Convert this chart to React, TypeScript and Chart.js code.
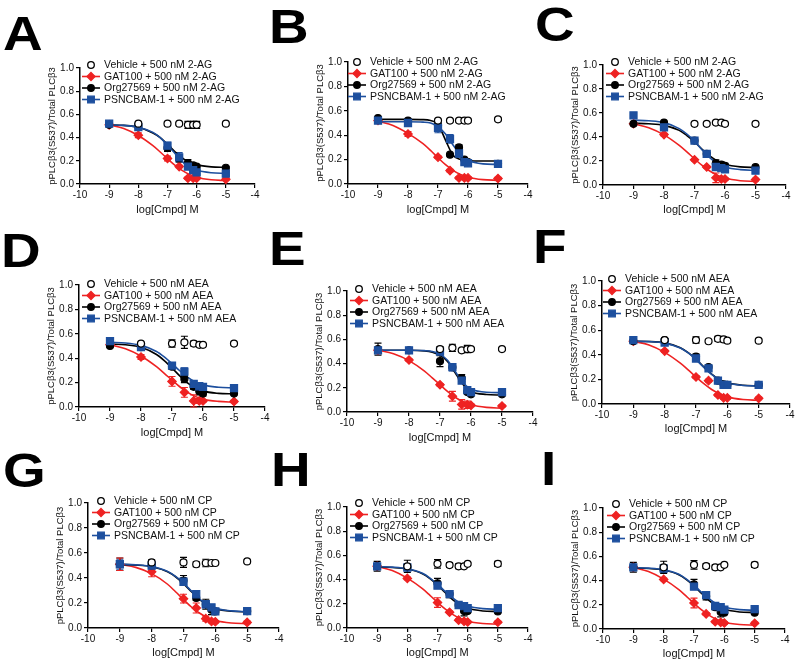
import React, { useEffect, useRef } from "react";
import { Chart, registerables } from "chart.js";

Chart.register(...registerables);

const FONT = '"Liberation Sans", Arial, Helvetica, sans-serif';
const RED = "#ee2222";
const BLUE = "#1d4f9e";
const BLACK = "#000000";

const LETTERS = ["A", "B", "C", "D", "E", "F", "G", "H", "I"];
const AGONISTS = ["2-AG", "2-AG", "2-AG", "AEA", "AEA", "AEA", "CP", "CP", "CP"];
const X_TICKS = [-10, -9, -8, -7, -6, -5, -4];
const Y_TICKS = [0, 0.2, 0.4, 0.6, 0.8, 1.0];
const X_TITLE = "log[Cmpd] M";
const Y_TITLE = "pPLCβ3(S537)/Total PLCβ3";

// concentrations (log M) of measured points
const CONC = [-9, -8, -7, -6.6, -6.3, -6.12, -6, -5];
// positions where the fitted curves were read
const FIT_X = [-9, -8.5, -8, -7.5, -7.25, -7, -6.75, -6.5, -6.25, -6, -5.5, -5];

// ---------- Panel A (2-AG) ----------
const A_VEH = [null, 0.52, 0.52, 0.52, 0.51, 0.51, 0.51, 0.52];
const A_VEH_ERR = [0, 0.01, 0.01, 0.01, 0.03, 0.03, 0.03, 0.01];
const A_GAT = [0.51, 0.42, 0.22, 0.15, 0.05, 0.05, 0.05, 0.04];
const A_GAT_ERR = [0.01, 0.02, 0.02, 0.01, 0.01, 0.01, 0.01, 0.01];
const A_ORG = [0.51, 0.5, 0.31, 0.22, 0.18, 0.16, 0.15, 0.14];
const A_ORG_ERR = [0.01, 0.01, 0.03, 0.03, 0.03, 0.02, 0.01, 0.01];
const A_PSN = [0.52, 0.49, 0.33, 0.23, 0.15, 0.12, 0.1, 0.09];
const A_PSN_ERR = [0.01, 0.01, 0.03, 0.04, 0.02, 0.02, 0.01, 0.01];
const A_GAT_FIT = [0.51, 0.478, 0.418, 0.33, 0.276, 0.218, 0.163, 0.117, 0.082, 0.058, 0.036, 0.03];
const A_ORG_FIT = [0.51, 0.505, 0.49, 0.44, 0.4, 0.34, 0.28, 0.225, 0.185, 0.165, 0.148, 0.143];
const A_PSN_FIT = [0.51, 0.505, 0.49, 0.445, 0.4, 0.335, 0.265, 0.195, 0.145, 0.118, 0.097, 0.092];

// ---------- Panel B (2-AG) ----------
const B_VEH = [null, null, 0.52, 0.52, 0.52, 0.52, 0.52, 0.53];
const B_VEH_ERR = [0, 0, 0.01, 0.01, 0.01, 0.01, 0.01, 0.01];
const B_GAT = [0.52, 0.41, 0.22, 0.11, 0.05, 0.05, 0.05, 0.045];
const B_GAT_ERR = [0.01, 0.02, 0.01, 0.01, 0.01, 0.01, 0.01, 0.01];
const B_ORG = [0.54, 0.52, 0.48, 0.24, 0.3, 0.2, 0.18, 0.165];
const B_ORG_ERR = [0.01, 0.01, 0.02, 0.01, 0.02, 0.01, 0.01, 0.01];
const B_PSN = [0.52, 0.5, 0.46, 0.37, 0.25, 0.18, 0.17, 0.165];
const B_PSN_ERR = [0.01, 0.01, 0.04, 0.035, 0.03, 0.02, 0.01, 0.01];
const B_GAT_FIT = [0.515, 0.48, 0.415, 0.33, 0.275, 0.215, 0.158, 0.112, 0.078, 0.056, 0.036, 0.03];
const B_ORG_FIT = [0.53, 0.53, 0.53, 0.528, 0.52, 0.49, 0.36, 0.235, 0.2, 0.19, 0.188, 0.188];
const B_PSN_FIT = [0.51, 0.51, 0.51, 0.507, 0.5, 0.47, 0.41, 0.32, 0.24, 0.195, 0.165, 0.16];

// ---------- Panel C (2-AG) ----------
const C_VEH = [null, null, 0.51, 0.51, 0.52, 0.52, 0.51, 0.51];
const C_VEH_ERR = [0, 0, 0.01, 0.01, 0.01, 0.01, 0.01, 0.01];
const C_GAT = [0.51, 0.42, 0.21, 0.15, 0.06, 0.05, 0.05, 0.045];
const C_GAT_ERR = [0.01, 0.01, 0.01, 0.01, 0.04, 0.01, 0.01, 0.01];
const C_ORG = [0.51, 0.52, 0.37, 0.26, 0.18, 0.17, 0.16, 0.15];
const C_ORG_ERR = [0.01, 0.01, 0.01, 0.01, 0.03, 0.02, 0.02, 0.01];
const C_PSN = [0.58, 0.48, 0.37, 0.26, 0.15, 0.14, 0.13, 0.12];
const C_PSN_ERR = [0.01, 0.01, 0.01, 0.01, 0.02, 0.01, 0.01, 0.01];
const C_GAT_FIT = [0.51, 0.478, 0.418, 0.33, 0.276, 0.218, 0.163, 0.117, 0.082, 0.058, 0.036, 0.03];
const C_ORG_FIT = [0.515, 0.51, 0.497, 0.455, 0.412, 0.36, 0.298, 0.243, 0.2, 0.173, 0.151, 0.146];
const C_PSN_FIT = [0.54, 0.535, 0.52, 0.47, 0.425, 0.365, 0.292, 0.228, 0.178, 0.15, 0.128, 0.122];

// ---------- Panel D (AEA) ----------
const D_VEH = [null, 0.52, 0.52, 0.53, 0.52, 0.51, 0.51, 0.52];
const D_VEH_ERR = [0, 0.01, 0.03, 0.05, 0.02, 0.01, 0.01, 0.01];
const D_GAT = [0.51, 0.41, 0.21, 0.12, 0.05, 0.05, 0.05, 0.045];
const D_GAT_ERR = [0.01, 0.02, 0.04, 0.04, 0.05, 0.02, 0.01, 0.01];
const D_ORG = [0.5, 0.49, 0.33, 0.23, 0.165, 0.13, 0.11, 0.11];
const D_ORG_ERR = [0.01, 0.01, 0.02, 0.03, 0.02, 0.03, 0.02, 0.01];
const D_PSN = [0.54, 0.49, 0.34, 0.29, 0.19, 0.17, 0.165, 0.155];
const D_PSN_ERR = [0.01, 0.02, 0.02, 0.03, 0.01, 0.01, 0.01, 0.01];
const D_GAT_FIT = [0.51, 0.478, 0.418, 0.33, 0.276, 0.22, 0.166, 0.12, 0.087, 0.064, 0.046, 0.04];
const D_ORG_FIT = [0.515, 0.51, 0.49, 0.43, 0.38, 0.32, 0.255, 0.198, 0.155, 0.13, 0.112, 0.107];
const D_PSN_FIT = [0.53, 0.525, 0.505, 0.455, 0.41, 0.355, 0.297, 0.245, 0.205, 0.18, 0.162, 0.157];

// ---------- Panel E (AEA) ----------
const E_VEH = [null, null, 0.52, 0.53, 0.51, 0.52, 0.52, 0.52];
const E_VEH_ERR = [0, 0, 0.02, 0.03, 0.01, 0.03, 0.01, 0.01];
const E_GAT = [0.51, 0.43, 0.225, 0.13, 0.063, 0.06, 0.055, 0.05];
const E_GAT_ERR = [0.01, 0.01, 0.01, 0.04, 0.04, 0.03, 0.01, 0.01];
const E_ORG = [0.52, 0.51, 0.42, 0.37, 0.28, 0.165, 0.146, 0.146];
const E_ORG_ERR = [0.05, 0.01, 0.045, 0.01, 0.03, 0.01, 0.01, 0.01];
const E_PSN = [0.51, 0.51, 0.5, 0.37, 0.26, 0.18, 0.165, 0.165];
const E_PSN_ERR = [0.01, 0.01, 0.02, 0.03, 0.01, 0.01, 0.01, 0.01];
const E_GAT_FIT = [0.51, 0.482, 0.425, 0.338, 0.282, 0.225, 0.168, 0.12, 0.084, 0.06, 0.038, 0.032];
const E_ORG_FIT = [0.51, 0.51, 0.51, 0.505, 0.495, 0.47, 0.415, 0.32, 0.225, 0.17, 0.145, 0.14];
const E_PSN_FIT = [0.51, 0.51, 0.51, 0.507, 0.5, 0.478, 0.425, 0.33, 0.24, 0.19, 0.163, 0.16];

// ---------- Panel F (AEA) ----------
const F_VEH = [null, 0.52, 0.52, 0.51, 0.53, 0.525, 0.515, 0.515];
const F_VEH_ERR = [0, 0.01, 0.025, 0.01, 0.02, 0.02, 0.01, 0.01];
const F_GAT = [0.51, 0.43, 0.22, 0.19, 0.073, 0.05, 0.05, 0.046];
const F_GAT_ERR = [0.01, 0.01, 0.01, 0.01, 0.01, 0.01, 0.01, 0.01];
const F_ORG = [0.51, 0.52, 0.385, 0.3, 0.19, 0.16, 0.155, 0.155];
const F_ORG_ERR = [0.01, 0.01, 0.02, 0.01, 0.01, 0.01, 0.01, 0.01];
const F_PSN = [0.52, 0.5, 0.37, 0.29, 0.19, 0.155, 0.155, 0.155];
const F_PSN_ERR = [0.01, 0.01, 0.01, 0.01, 0.01, 0.01, 0.01, 0.01];
const F_GAT_FIT = [0.51, 0.48, 0.42, 0.332, 0.278, 0.22, 0.165, 0.118, 0.083, 0.058, 0.036, 0.03];
const F_ORG_FIT = [0.51, 0.508, 0.497, 0.458, 0.418, 0.365, 0.302, 0.243, 0.198, 0.172, 0.152, 0.147];
const F_PSN_FIT = [0.51, 0.507, 0.495, 0.455, 0.415, 0.36, 0.298, 0.24, 0.196, 0.17, 0.151, 0.146];

// ---------- Panel G (CP) ----------
const G_VEH = [null, 0.525, 0.525, 0.51, 0.52, 0.52, 0.52, 0.533];
const G_VEH_ERR = [0, 0.02, 0.04, 0.02, 0.03, 0.01, 0.01, 0.01];
const G_GAT = [0.51, 0.45, 0.235, 0.16, 0.075, 0.053, 0.05, 0.045];
const G_GAT_ERR = [0.05, 0.04, 0.035, 0.04, 0.02, 0.01, 0.01, 0.01];
const G_ORG = [0.51, 0.5, 0.38, 0.24, 0.19, 0.147, 0.133, 0.135];
const G_ORG_ERR = [0.05, 0.02, 0.04, 0.02, 0.04, 0.04, 0.01, 0.02];
const G_PSN = [0.51, 0.5, 0.37, 0.27, 0.19, 0.165, 0.133, 0.135];
const G_PSN_ERR = [0.04, 0.03, 0.03, 0.03, 0.03, 0.02, 0.01, 0.02];
const G_GAT_FIT = [0.51, 0.485, 0.435, 0.35, 0.29, 0.228, 0.168, 0.12, 0.083, 0.06, 0.04, 0.035];
const G_ORG_FIT = [0.508, 0.503, 0.49, 0.45, 0.41, 0.355, 0.29, 0.228, 0.182, 0.155, 0.134, 0.129];
const G_PSN_FIT = [0.51, 0.505, 0.492, 0.453, 0.413, 0.36, 0.295, 0.233, 0.186, 0.158, 0.137, 0.131];

// ---------- Panel H (CP) ----------
const H_VEH = [null, 0.51, 0.53, 0.52, 0.51, 0.51, 0.53, 0.53];
const H_VEH_ERR = [0, 0.05, 0.035, 0.02, 0.02, 0.01, 0.01, 0.02];
const H_GAT = [0.51, 0.41, 0.21, 0.13, 0.065, 0.055, 0.05, 0.047];
const H_GAT_ERR = [0.01, 0.01, 0.04, 0.01, 0.01, 0.01, 0.01, 0.01];
const H_ORG = [0.51, 0.5, 0.37, 0.28, 0.19, 0.14, 0.14, 0.137];
const H_ORG_ERR = [0.04, 0.01, 0.04, 0.03, 0.02, 0.04, 0.01, 0.01];
const H_PSN = [0.51, 0.5, 0.35, 0.28, 0.19, 0.18, 0.165, 0.165];
const H_PSN_ERR = [0.01, 0.01, 0.02, 0.01, 0.02, 0.01, 0.01, 0.01];
const H_GAT_FIT = [0.508, 0.475, 0.412, 0.325, 0.27, 0.212, 0.158, 0.113, 0.079, 0.056, 0.037, 0.032];
const H_ORG_FIT = [0.505, 0.5, 0.487, 0.448, 0.408, 0.355, 0.293, 0.235, 0.19, 0.163, 0.141, 0.136];
const H_PSN_FIT = [0.507, 0.503, 0.49, 0.452, 0.413, 0.362, 0.303, 0.248, 0.206, 0.181, 0.16, 0.155];

// ---------- Panel I (CP) ----------
const I_VEH = [null, 0.51, 0.53, 0.52, 0.51, 0.51, 0.53, 0.53];
const I_VEH_ERR = [0, 0.05, 0.035, 0.02, 0.02, 0.01, 0.01, 0.02];
const I_GAT = [0.51, 0.41, 0.215, 0.125, 0.06, 0.055, 0.05, 0.047];
const I_GAT_ERR = [0.01, 0.01, 0.04, 0.01, 0.01, 0.01, 0.01, 0.01];
const I_ORG = [0.51, 0.49, 0.37, 0.27, 0.18, 0.14, 0.135, 0.135];
const I_ORG_ERR = [0.04, 0.01, 0.04, 0.03, 0.02, 0.04, 0.01, 0.01];
const I_PSN = [0.51, 0.5, 0.35, 0.28, 0.19, 0.18, 0.16, 0.165];
const I_PSN_ERR = [0.01, 0.01, 0.02, 0.01, 0.02, 0.01, 0.01, 0.01];
const I_GAT_FIT = [0.508, 0.475, 0.412, 0.325, 0.27, 0.212, 0.158, 0.113, 0.079, 0.056, 0.037, 0.032];
const I_ORG_FIT = [0.505, 0.5, 0.487, 0.448, 0.408, 0.355, 0.293, 0.235, 0.19, 0.163, 0.141, 0.136];
const I_PSN_FIT = [0.507, 0.503, 0.49, 0.452, 0.413, 0.362, 0.303, 0.248, 0.206, 0.181, 0.16, 0.155];

const PANEL_DATA = [
  [A_VEH, A_VEH_ERR, A_GAT, A_GAT_ERR, A_ORG, A_ORG_ERR, A_PSN, A_PSN_ERR, A_GAT_FIT, A_ORG_FIT, A_PSN_FIT],
  [B_VEH, B_VEH_ERR, B_GAT, B_GAT_ERR, B_ORG, B_ORG_ERR, B_PSN, B_PSN_ERR, B_GAT_FIT, B_ORG_FIT, B_PSN_FIT],
  [C_VEH, C_VEH_ERR, C_GAT, C_GAT_ERR, C_ORG, C_ORG_ERR, C_PSN, C_PSN_ERR, C_GAT_FIT, C_ORG_FIT, C_PSN_FIT],
  [D_VEH, D_VEH_ERR, D_GAT, D_GAT_ERR, D_ORG, D_ORG_ERR, D_PSN, D_PSN_ERR, D_GAT_FIT, D_ORG_FIT, D_PSN_FIT],
  [E_VEH, E_VEH_ERR, E_GAT, E_GAT_ERR, E_ORG, E_ORG_ERR, E_PSN, E_PSN_ERR, E_GAT_FIT, E_ORG_FIT, E_PSN_FIT],
  [F_VEH, F_VEH_ERR, F_GAT, F_GAT_ERR, F_ORG, F_ORG_ERR, F_PSN, F_PSN_ERR, F_GAT_FIT, F_ORG_FIT, F_PSN_FIT],
  [G_VEH, G_VEH_ERR, G_GAT, G_GAT_ERR, G_ORG, G_ORG_ERR, G_PSN, G_PSN_ERR, G_GAT_FIT, G_ORG_FIT, G_PSN_FIT],
  [H_VEH, H_VEH_ERR, H_GAT, H_GAT_ERR, H_ORG, H_ORG_ERR, H_PSN, H_PSN_ERR, H_GAT_FIT, H_ORG_FIT, H_PSN_FIT],
  [I_VEH, I_VEH_ERR, I_GAT, I_GAT_ERR, I_ORG, I_ORG_ERR, I_PSN, I_PSN_ERR, I_GAT_FIT, I_ORG_FIT, I_PSN_FIT],
];

// ---------- layout (page pixels) ----------
// plot-area box: left, top, right, bottom
const PANEL_BOX = [
  [80, 68, 255, 184],
  [348, 62, 528, 184],
  [603, 65, 786, 185],
  [79, 285, 265, 407],
  [347, 291, 533, 412],
  [602, 281, 790, 404],
  [88, 503, 279, 628],
  [347, 507, 528, 628],
  [603, 508, 785, 629],
];
// legend marker offset from plot left, first row offset from plot top
const LEGEND_POS = [
  [11, -3], [9, 0], [12, -3],
  [12, -1], [12, -2], [10, -2],
  [13, -2], [12, -4], [13, -4],
];
// distance from x axis to x-title centre
const TITLE_GAP = [26, 26, 25, 26, 26, 25, 25, 25, 25];
// panel letter (div left, top)
const LETTER_POS = [
  [3, 8.5], [269, 1.5], [534.5, 0],
  [1, 226], [269, 223.5], [533, 221.5],
  [2.5, 445.5], [271, 445], [541, 443.5],
];

const YW = 33; // y-axis box width
const PT = 14; // top padding
const PR = 12; // right padding

function drawMarker(ctx: CanvasRenderingContext2D, shape: string, x: number, y: number, color: string, fill: string) {
  ctx.save();
  ctx.beginPath();
  if (shape === "circle") {
    ctx.arc(x, y, 3.3, 0, Math.PI * 2);
  } else if (shape === "diamond") {
    ctx.moveTo(x, y - 4);
    ctx.lineTo(x + 4, y);
    ctx.lineTo(x, y + 4);
    ctx.lineTo(x - 4, y);
    ctx.closePath();
  } else {
    ctx.rect(x - 3.3, y - 3.3, 6.6, 6.6);
  }
  ctx.fillStyle = fill;
  ctx.fill();
  ctx.lineWidth = 1.3;
  ctx.strokeStyle = color;
  ctx.stroke();
  ctx.restore();
}

function Panel({ idx }: { idx: number }) {
  const ref = useRef<HTMLCanvasElement>(null);
  const [l, t, r, b] = PANEL_BOX[idx];
  const XH = TITLE_GAP[idx] + 7;
  const width = r - l + YW + PR;
  const height = b - t + PT + XH;

  useEffect(() => {
    const [veh, vehErr, gat, gatErr, org, orgErr, psn, psnErr, gatFit, orgFit, psnFit] = PANEL_DATA[idx] as any[];
    const ag = AGONISTS[idx];
    const pts = (ys: (number | null)[]) => CONC.map((x, i) => ({ x, y: ys[i] }));
    const fit = (ys: number[]) => FIT_X.map((x, i) => ({ x, y: ys[i] }));

    const pointDs = (label: string, ys: any[], errs: number[], style: string, radius: number, color: string, fill: string) => ({
      label,
      data: pts(ys),
      errors: errs,
      showLine: false,
      pointStyle: style,
      pointRadius: radius,
      pointBackgroundColor: fill,
      pointBorderColor: color,
      pointBorderWidth: 1.2,
      borderColor: color,
      backgroundColor: fill,
    });
    const fitDs = (ys: number[], color: string) => ({
      data: fit(ys),
      showLine: true,
      pointRadius: 0,
      borderColor: color,
      borderWidth: 1.6,
      cubicInterpolationMode: "monotone",
      fill: false,
    });

    const datasets: any[] = [
      pointDs(`Vehicle + 500 nM ${ag}`, veh, vehErr, "circle", 3.5, BLACK, "#ffffff"),
      pointDs(`PSNCBAM-1 + 500 nM ${ag}`, psn, psnErr, "rect", 5, BLUE, BLUE),
      pointDs(`Org27569 + 500 nM ${ag}`, org, orgErr, "circle", 3.5, BLACK, BLACK),
      pointDs(`GAT100 + 500 nM ${ag}`, gat, gatErr, "rectRot", 4.2, RED, RED),
      fitDs(psnFit, BLUE),
      fitDs(orgFit, BLACK),
      fitDs(gatFit, RED),
    ];

    const legendItems = [
      { text: `Vehicle + 500 nM ${ag}`, shape: "circle", color: BLACK, fill: "#ffffff", line: false },
      { text: `GAT100 + 500 nM ${ag}`, shape: "diamond", color: RED, fill: RED, line: true },
      { text: `Org27569 + 500 nM ${ag}`, shape: "circle", color: BLACK, fill: BLACK, line: true },
      { text: `PSNCBAM-1 + 500 nM ${ag}`, shape: "square", color: BLUE, fill: BLUE, line: true },
    ];
    const [ldx, ldy] = LEGEND_POS[idx];

    const errorPlugin = {
      id: "errBars",
      beforeDatasetsDraw(chart: any) {
        const ctx = chart.ctx;
        const xs = chart.scales.x;
        const ys = chart.scales.y;
        chart.data.datasets.forEach((ds: any) => {
          if (!ds.errors) return;
          ds.data.forEach((p: any, j: number) => {
            const e = ds.errors[j];
            if (p.y == null || !e) return;
            const px = xs.getPixelForValue(p.x);
            const y1 = ys.getPixelForValue(p.y + e);
            const y2 = ys.getPixelForValue(p.y - e);
            ctx.save();
            ctx.strokeStyle = ds.borderColor;
            ctx.lineWidth = 1.2;
            ctx.beginPath();
            ctx.moveTo(px, y1);
            ctx.lineTo(px, y2);
            ctx.moveTo(px - 3.5, y1);
            ctx.lineTo(px + 3.5, y1);
            ctx.moveTo(px - 3.5, y2);
            ctx.lineTo(px + 3.5, y2);
            ctx.stroke();
            ctx.restore();
          });
        });
      },
    };

    const legendPlugin = {
      id: "panelLegend",
      afterDatasetsDraw(chart: any) {
        const { ctx, chartArea } = chart;
        const x0 = chartArea.left + ldx;
        const y0 = chartArea.top + ldy;
        legendItems.forEach((it, k) => {
          const y = y0 + k * 11.5;
          ctx.save();
          if (it.line) {
            ctx.strokeStyle = it.color;
            ctx.lineWidth = 1.6;
            ctx.beginPath();
            ctx.moveTo(x0 - 9, y);
            ctx.lineTo(x0 + 9, y);
            ctx.stroke();
          }
          drawMarker(ctx, it.shape, x0, y, it.color, it.fill);
          ctx.fillStyle = "#111111";
          ctx.font = `10.5px ${FONT}`;
          ctx.textBaseline = "middle";
          ctx.textAlign = "left";
          ctx.fillText(it.text, x0 + 13, y + 0.5);
          ctx.restore();
        });
      },
    };

    const chart = new Chart(ref.current as HTMLCanvasElement, {
      type: "scatter",
      data: { datasets },
      options: {
        animation: false,
        responsive: false,
        maintainAspectRatio: false,
        events: [],
        layout: { padding: { top: PT, right: PR, left: 0, bottom: 0 } },
        plugins: { legend: { display: false }, tooltip: { enabled: false } },
        scales: {
          x: {
            type: "linear",
            min: X_TICKS[0],
            max: X_TICKS[X_TICKS.length - 1],
            afterFit: (s: any) => {
              s.height = XH;
            },
            afterBuildTicks: (s: any) => {
              s.ticks = X_TICKS.map((v) => ({ value: v }));
            },
            ticks: {
              color: "#111111",
              font: { family: FONT, size: 10 },
              padding: 1,
              maxRotation: 0,
              autoSkip: false,
              callback: (v: any) => String(v),
            },
            grid: { drawOnChartArea: false, drawTicks: true, tickLength: 4, color: BLACK, lineWidth: 1.2 },
            border: { display: true, color: BLACK, width: 1.5 },
            title: {
              display: true,
              text: X_TITLE,
              color: "#111111",
              font: { family: FONT, size: 11 },
              padding: 0,
            },
          },
          y: {
            type: "linear",
            min: 0,
            max: 1,
            afterFit: (s: any) => {
              s.width = YW;
            },
            afterBuildTicks: (s: any) => {
              s.ticks = Y_TICKS.map((v) => ({ value: v }));
            },
            ticks: {
              color: "#111111",
              font: { family: FONT, size: 10 },
              padding: 2,
              callback: (v: any) => Number(v).toFixed(1),
            },
            grid: { drawOnChartArea: false, drawTicks: true, tickLength: 4, color: BLACK, lineWidth: 1.2 },
            border: { display: true, color: BLACK, width: 1.5 },
            title: {
              display: true,
              text: Y_TITLE,
              color: "#111111",
              font: { family: FONT, size: 9.5 },
              padding: 0,
            },
          },
        },
      } as any,
      plugins: [errorPlugin, legendPlugin],
    });
    return () => chart.destroy();
  }, [idx]);

  return (
    <canvas
      ref={ref}
      width={width}
      height={height}
      style={{ position: "absolute", left: l - YW, top: t - PT, width, height }}
    />
  );
}

export default function App() {
  return (
    <div
      style={{
        position: "absolute",
        left: 0,
        top: 0,
        width: 800,
        height: 670,
        overflow: "hidden",
        background: "#ffffff",
      }}
    >
      {LETTERS.map((letter, i) => (
        <div
          key={letter}
          style={{
            position: "absolute",
            left: LETTER_POS[i][0],
            top: LETTER_POS[i][1],
            font: `bold 49px ${FONT}`,
            lineHeight: "49px",
            color: "#000",
            transform: "scaleX(1.12)",
            transformOrigin: "0 0",
          }}
        >
          {letter}
        </div>
      ))}
      {LETTERS.map((letter, i) => (
        <Panel key={`p${letter}`} idx={i} />
      ))}
    </div>
  );
}
